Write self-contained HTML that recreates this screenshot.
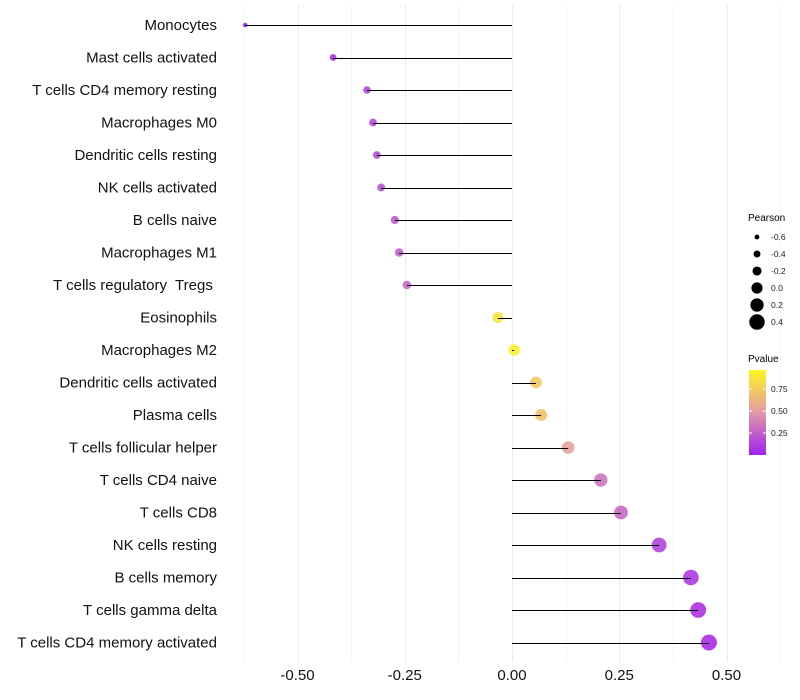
<!DOCTYPE html>
<html><head><meta charset="utf-8"><style>
body{margin:0;background:#fff;}
svg{display:block;font-family:"Liberation Sans",sans-serif;}
</style></head><body>
<svg id="chart" width="800" height="700">
<defs><linearGradient id="pg" x1="0" y1="1" x2="0" y2="0">
<stop offset="0" stop-color="#A020F0"/><stop offset="0.5" stop-color="#E29AA8"/><stop offset="1" stop-color="#FFF51E"/></linearGradient></defs>
<g id="grid"></g>
<g id="marks"></g>
<g id="ylabels"></g>
<g id="xlabels"></g>
<g id="sizeleg">
<text x="748" y="221" font-size="10">Pearson</text>
</g>
<g>
<text x="748" y="362" font-size="10">Pvalue</text>
<rect x="749" y="370" width="17" height="85" fill="url(#pg)"/>
<g id="cticks"></g>
</g>
</svg>
<script>
const categories=["Monocytes","Mast cells activated","T cells CD4 memory resting","Macrophages M0","Dendritic cells resting","NK cells activated","B cells naive","Macrophages M1","T cells regulatory  Tregs ","Eosinophils","Macrophages M2","Dendritic cells activated","Plasma cells","T cells follicular helper","T cells CD4 naive","T cells CD8","NK cells resting","B cells memory","T cells gamma delta","T cells CD4 memory activated"];
const pearson=[-0.622,-0.417,-0.338,-0.324,-0.315,-0.305,-0.273,-0.263,-0.245,-0.033,0.005,0.056,0.068,0.131,0.207,0.254,0.343,0.417,0.434,0.459];
const pvalue=[0.01,0.06,0.15,0.17,0.19,0.2,0.25,0.26,0.3,0.9,0.97,0.75,0.72,0.55,0.35,0.3,0.15,0.1,0.08,0.05];
const xTicks=[-0.5,-0.25,0,0.25,0.5];
const xTickLabels=["-0.50","-0.25","0.00","0.25","0.50"];
const sizeLegendValues=[-0.6,-0.4,-0.2,0.0,0.2,0.4];
const colorLegendValues=[0.25,0.5,0.75];

const NS="http://www.w3.org/2000/svg";
const x=v=>512+v*429;
const y=i=>25+i*32.5;
const r=v=>2.3+(v+0.62)*5.3;
const pY=p=>455-p*88;
function lerp(a,b,t){return a.map((c,i)=>Math.round(c+(b[i]-c)*t));}
function col(p){const s=[[160,32,240],[226,154,168],[255,245,30]];let c=p<0.5?lerp(s[0],s[1],p/0.5):lerp(s[1],s[2],(p-0.5)/0.5);return `rgb(${c})`;}
function mk(tag,attrs,parent){const e=document.createElementNS(NS,tag);for(const k in attrs)e.setAttribute(k,attrs[k]);parent.appendChild(e);return e;}
const grid=document.getElementById('grid');
for(let v=-0.625;v<=0.63;v+=0.125){
 const gx=Math.round(x(v))+0.5;
 const l=mk('line',{x1:gx,x2:gx,y1:5,y2:662,stroke:(Math.abs(v*4-Math.round(v*4))<1e-6)?'#ebebeb':'#f4f4f4','stroke-width':1},grid);
 
 
}
const marks=document.getElementById('marks'),yl=document.getElementById('ylabels'),xl=document.getElementById('xlabels');
categories.forEach((c,i)=>{
 const d=mk('circle',{cx:x(pearson[i]),cy:y(i),r:r(pearson[i]),fill:col(pvalue[i]),'fill-opacity':0.9},marks);
 
 
 const sy=Math.round(y(i))+0.5;
 const s=mk('line',{x1:x(0),x2:x(pearson[i]),y1:sy,y2:sy,stroke:'#000','stroke-width':1},marks);
 
 
 const t=mk('text',{x:217,y:y(i)+5,'text-anchor':'end','font-size':15,fill:'#111','xml:space':'preserve'},yl);
 t.style.whiteSpace='pre';
 t.textContent=c;
 
 
});
xTicks.forEach((v,i)=>{
 const t=mk('text',{x:x(v),y:680,'text-anchor':'middle','font-size':15,fill:'#111'},xl);
 t.textContent=xTickLabels[i];
 
 
});
const sl=document.getElementById('sizeleg');
sizeLegendValues.forEach((v,i)=>{
 const cy=237+i*17;
 const c=mk('circle',{cx:757,cy:cy,r:r(v),fill:'#000'},sl);
 
 
 const t=mk('text',{x:771,y:cy+3,'font-size':8.5,fill:'#222'},sl);
 t.textContent=v.toFixed(1);
 
 
});
const ct=document.getElementById('cticks');
colorLegendValues.forEach(v=>{
 const t=mk('text',{x:771,y:pY(v)+3,'font-size':8.5,fill:'#222'},ct);
 t.textContent=v.toFixed(2);
 
 
 mk('line',{x1:749,x2:752,y1:pY(v),y2:pY(v),stroke:'#fff'},ct);
 mk('line',{x1:763,x2:766,y1:pY(v),y2:pY(v),stroke:'#fff'},ct);
});
</script>
</body></html>
